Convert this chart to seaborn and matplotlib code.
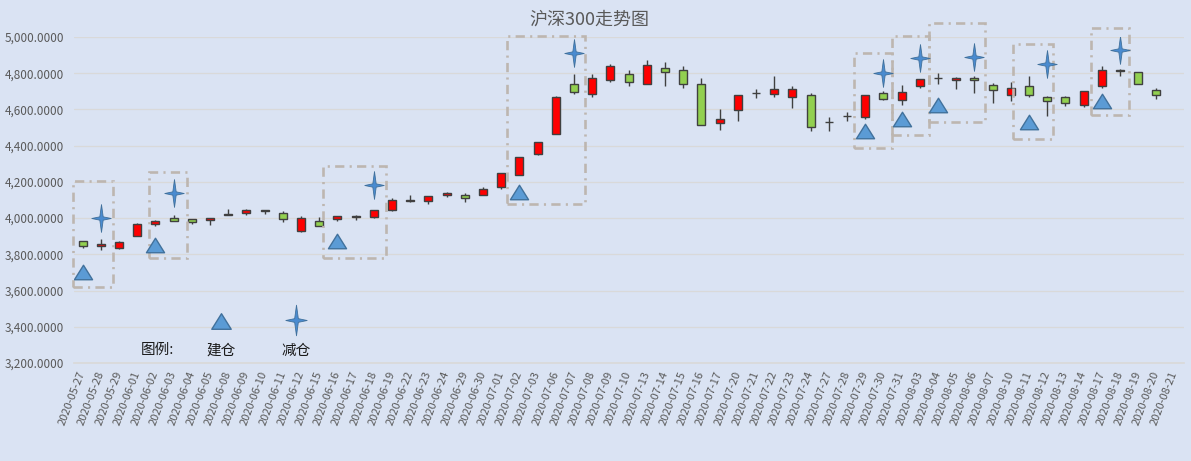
import numpy as np
import pandas as pd
import seaborn as sns
import matplotlib.pyplot as plt
from matplotlib.path import Path
from matplotlib.patches import Rectangle

# 数据
dates = ["2020-05-27", "2020-05-28", "2020-05-29", "2020-06-01", "2020-06-02", "2020-06-03",
         "2020-06-04", "2020-06-05", "2020-06-08", "2020-06-09", "2020-06-10", "2020-06-11",
         "2020-06-12", "2020-06-15", "2020-06-16", "2020-06-17", "2020-06-18", "2020-06-19",
         "2020-06-22", "2020-06-23", "2020-06-24", "2020-06-29", "2020-06-30", "2020-07-01",
         "2020-07-02", "2020-07-03", "2020-07-06", "2020-07-07", "2020-07-08", "2020-07-09",
         "2020-07-10", "2020-07-13", "2020-07-14", "2020-07-15", "2020-07-16", "2020-07-17",
         "2020-07-20", "2020-07-21", "2020-07-22", "2020-07-23", "2020-07-24", "2020-07-27",
         "2020-07-28", "2020-07-29", "2020-07-30", "2020-07-31", "2020-08-03", "2020-08-04",
         "2020-08-05", "2020-08-06", "2020-08-07", "2020-08-10", "2020-08-11", "2020-08-12",
         "2020-08-13", "2020-08-14", "2020-08-17", "2020-08-18", "2020-08-19", "2020-08-20",
         "2020-08-21"]

open_ = [3873, 3846, 3835, 3901, 3967, 4000, 3996, 3989, 4018, 4026, 4045, 4028, 3928, 3983, 3994,
         4008, 4005, 4044, 4096, 4094, 4127, 4127, 4127, 4171, 4237, 4352, 4462, 4738, 4686, 4765,
         4793, 4738, 4831, 4820, 4738, 4523, 4595, 4692, 4683, 4666, 4677, 4532, 4565, 4556, 4688,
         4650, 4732, 4773, 4760, 4774, 4736, 4677, 4727, 4666, 4666, 4626, 4727, 4813, 4804, 4705]
high = [3873, 3884, 3873, 3972, 3991, 4018, 3996, 4000, 4050, 4050, 4046, 4040, 4009, 4005, 4013,
        4018, 4046, 4110, 4126, 4121, 4143, 4139, 4171, 4248, 4336, 4418, 4675, 4793, 4798, 4853,
        4820, 4875, 4861, 4839, 4771, 4600, 4677, 4710, 4787, 4728, 4688, 4556, 4587, 4677, 4703,
        4736, 4769, 4802, 4778, 4783, 4747, 4752, 4785, 4675, 4672, 4703, 4837, 4822, 4804, 4720]
low = [3835, 3822, 3828, 3901, 3954, 3983, 3969, 3963, 4015, 4018, 4022, 3976, 3921, 3956, 3982,
       3987, 3998, 4040, 4088, 4077, 4119, 4090, 4127, 4161, 4237, 4349, 4462, 4686, 4666, 4754,
       4730, 4738, 4727, 4721, 4512, 4484, 4534, 4661, 4670, 4606, 4481, 4481, 4536, 4545, 4651,
       4622, 4716, 4743, 4710, 4688, 4633, 4644, 4670, 4562, 4620, 4615, 4720, 4787, 4738, 4659]
close = [3844, 3857, 3868, 3967, 3985, 3983, 3978, 4000, 4020, 4044, 4040, 3994, 3998, 3956, 4011,
         4014, 4042, 4099, 4098, 4121, 4138, 4110, 4160, 4248, 4336, 4418, 4666, 4694, 4771, 4837,
         4749, 4848, 4804, 4743, 4512, 4547, 4677, 4693, 4712, 4710, 4501, 4533, 4566, 4677, 4655,
         4694, 4769, 4775, 4776, 4760, 4705, 4721, 4677, 4644, 4633, 4703, 4815, 4815, 4738, 4677]

# 建仓 / 减仓 标记 (日期序号, 数值)
buy_idx = [0, 4, 14, 24, 43, 45, 47, 52, 56]
buy_val = [3703, 3851, 3873, 4145, 4479, 4549, 4622, 4528, 4644]
sell_idx = [1, 5, 16, 27, 44, 46, 49, 53, 57]
sell_val = [4000, 4138, 4183, 4912, 4802, 4884, 4890, 4853, 4930]

# 虚线框 (起始序号, 结束序号, 下沿, 上沿)
box_x0 = [-0.55, 3.62, 13.2, 23.3, 42.4, 44.5, 46.5, 51.1, 55.4]
box_x1 = [1.68, 5.74, 16.65, 27.6, 44.5, 46.5, 49.6, 53.3, 57.5]
box_lo = [3619, 3779, 3782, 4079, 4388, 4460, 4530, 4436, 4569]
box_hi = [4206, 4252, 4285, 5003, 4912, 5003, 5077, 4961, 5048]

df = pd.DataFrame({"open": open_, "high": high, "low": low, "close": close})
df["x"] = np.arange(len(df))
df["color"] = np.where(df["close"] > df["open"], "#FF0000", "#92D050")

bg = "#DAE3F3"
sns.set_theme(style="white")
plt.rcParams["font.family"] = ["Noto Sans CJK SC", "DejaVu Sans"]

fig = plt.figure(figsize=(11.91, 4.61), dpi=100, facecolor=bg)
ax = fig.add_axes([0.0618, 0.2126, 0.932, 0.7072])
ax.set_facecolor(bg)

# 影线和实体
ax.vlines(df["x"], df["low"], df["high"], color="#404040", lw=1, zorder=2)
ax.bar(df["x"], df["close"] - df["open"], bottom=df["open"], width=0.44,
       color=df["color"], edgecolor="#404040", linewidth=1, zorder=3)

# 标记
star = Path([(0, 1), (0.12, 0.12), (0.7, 0), (0.12, -0.12), (0, -1), (-0.12, -0.12),
             (-0.7, 0), (-0.12, 0.12), (0, 1)], closed=True)
tri = Path([(-1, -0.8), (1, -0.8), (0, 0.8), (-1, -0.8)], closed=True)
sns.scatterplot(x=buy_idx, y=buy_val, marker=tri, s=170, color="#5B9BD5",
                edgecolor="#41719C", linewidth=1, ax=ax, zorder=5)
sns.scatterplot(x=sell_idx, y=sell_val, marker=star, s=400, color="#4A8BD0",
                edgecolor="#41719C", linewidth=0.6, ax=ax, zorder=5)

for x0, x1, lo, hi in zip(box_x0, box_x1, box_lo, box_hi):
    ax.add_patch(Rectangle((x0, lo), x1 - x0, hi - lo, fill=False, edgecolor="#BDB6B0",
                           lw=1.9, linestyle=(0, (3.5, 2, 0.8, 2)), clip_on=False, zorder=4))

# 坐标轴
ax.set_xlim(-0.5, len(dates) - 0.5)
ax.set_ylim(3200, 5000)
ax.set_yticks(np.arange(3200, 5001, 200))
ax.set_yticklabels([f"{v:,.4f}" for v in np.arange(3200, 5001, 200)], fontsize=8.5, color="#595959")
ax.set_xticks(np.arange(len(dates)))
ax.set_xticklabels(dates, rotation=69, ha="right", va="center", rotation_mode="anchor",
                   fontsize=8, color="#595959")
ax.set_xticks(np.arange(len(dates) + 1) - 0.5, minor=True)
ax.tick_params(axis="x", which="major", length=0, pad=6)
ax.tick_params(axis="x", which="minor", length=4, color="#D9D9D9", width=1)
ax.tick_params(axis="y", length=0, pad=7)
ax.grid(axis="y", color="#D9D9D9", lw=0.9)
ax.set_axisbelow(True)
for s in ["top", "right", "left"]:
    ax.spines[s].set_visible(False)
ax.spines["bottom"].set_color("#D9D9D9")
ax.set_xlabel("")
ax.set_ylabel("")

# 标题和图例
fig.text(589 / 1191, 1 - 20 / 461, "沪深300走势图", ha="center", va="center",
         fontsize=13, color="#595959")
fig.text(157 / 1191, 1 - 350 / 461, "图例:", ha="center", va="center", fontsize=10.5, color="#1A1A1A")
fig.text(221 / 1191, 1 - 351 / 461, "建仓", ha="center", va="center", fontsize=10.5, color="#1A1A1A")
fig.text(296 / 1191, 1 - 351 / 461, "减仓", ha="center", va="center", fontsize=10.5, color="#1A1A1A")
fig.add_artist(plt.Line2D([221 / 1191], [1 - 321 / 461], marker=tri, markersize=14,
                          color="#5B9BD5", markeredgecolor="#41719C", markeredgewidth=1,
                          linestyle="none", transform=fig.transFigure))
fig.add_artist(plt.Line2D([296 / 1191], [1 - 320 / 461], marker=star, markersize=22,
                          color="#4A8BD0", markeredgecolor="#41719C", markeredgewidth=0.6,
                          linestyle="none", transform=fig.transFigure))

fig.savefig("out.png", dpi=100, facecolor=bg)
